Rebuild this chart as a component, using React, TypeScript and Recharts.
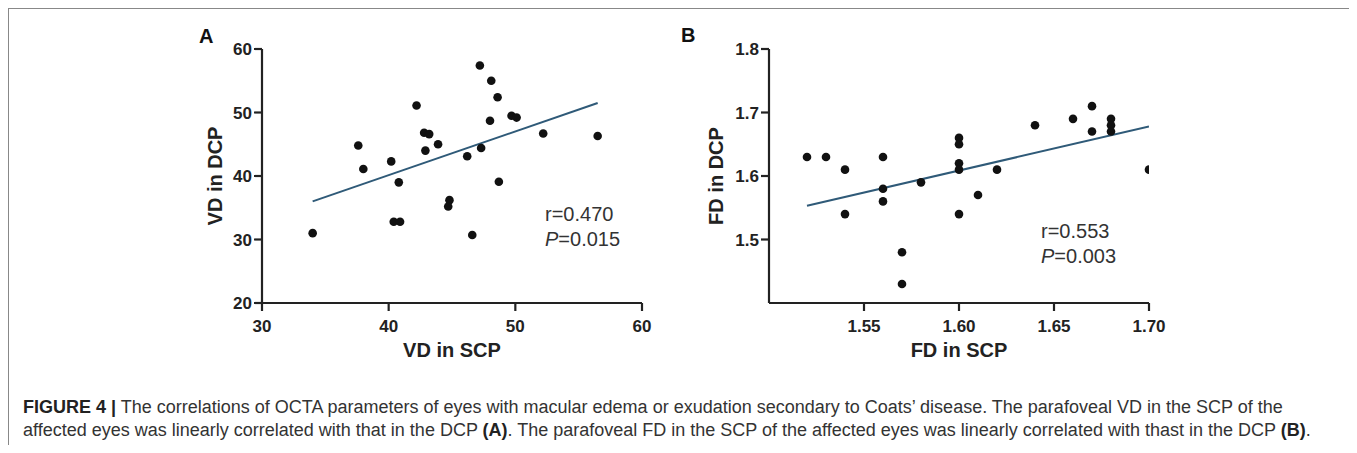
import React from "react";
import { ScatterChart, Scatter, XAxis, YAxis, Label } from "recharts";

// panel A: VD (vessel density)
const vdScp = [34.0, 37.6, 38.0, 40.2, 40.8, 40.4, 40.9, 42.2, 42.8, 43.2, 42.9, 43.9, 44.8, 44.7, 47.2, 48.1, 48.6, 48.0, 49.7, 50.1, 52.2, 56.5, 46.2, 47.3, 48.7, 46.6];
const vdDcp = [31.0, 44.8, 41.1, 42.3, 39.0, 32.8, 32.8, 51.1, 46.8, 46.6, 44.0, 45.0, 36.2, 35.2, 57.4, 55.0, 52.4, 48.7, 49.5, 49.2, 46.7, 46.3, 43.1, 44.4, 39.1, 30.7];
const vdFitX = [34.0, 56.5];
const vdFitY = [36.0, 51.5];
const vdXTicks = [30, 40, 50, 60];
const vdYTicks = [20, 30, 40, 50, 60];

// panel B: FD (fractal dimension)
const fdScp = [1.52, 1.53, 1.54, 1.54, 1.56, 1.56, 1.56, 1.57, 1.57, 1.58, 1.6, 1.6, 1.6, 1.6, 1.6, 1.61, 1.62, 1.64, 1.66, 1.67, 1.67, 1.68, 1.68, 1.68, 1.7];
const fdDcp = [1.63, 1.63, 1.61, 1.54, 1.63, 1.58, 1.56, 1.48, 1.43, 1.59, 1.66, 1.65, 1.62, 1.61, 1.54, 1.57, 1.61, 1.68, 1.69, 1.71, 1.67, 1.69, 1.68, 1.67, 1.61];
const fdFitX = [1.52, 1.7];
const fdFitY = [1.553, 1.678];
const fdXTicks = [1.55, 1.6, 1.65, 1.7];
const fdYTicks = [1.5, 1.6, 1.7, 1.8];

const zip = (xs: number[], ys: number[]) => xs.map((x, i) => ({ x, y: ys[i] }));

const FONT = '"Liberation Sans", Arial, sans-serif';
const AXIS = "#222";
const FIT = "#2f5a78";

const tickStyle = { fontSize: 17, fontWeight: 700, fill: AXIS, fontFamily: FONT };

const yTitle = (text: string, dx: number) => (props: any) => {
  const { x, y, height } = props.viewBox;
  const cx = x + dx;
  const cy = y + height / 2;
  return (
    <text
      x={cx}
      y={cy}
      transform={`rotate(-90, ${cx}, ${cy})`}
      textAnchor="middle"
      dominantBaseline="central"
      fontSize={20}
      fontWeight={700}
      fontFamily={FONT}
      fill={AXIS}
    >
      {text}
    </text>
  );
};

const xTitle = (text: string) => (props: any) => {
  const { x, y, width } = props.viewBox;
  return (
    <text
      x={x + width / 2}
      y={y + 47}
      textAnchor="middle"
      dominantBaseline="central"
      fontSize={20}
      fontWeight={700}
      fontFamily={FONT}
      fill={AXIS}
    >
      {text}
    </text>
  );
};

function Panel(props: {
  points: { x: number; y: number }[];
  fit: { x: number; y: number }[];
  xDomain: [number, number];
  yDomain: [number, number];
  xTicks: number[];
  yTicks: number[];
  xFmt: (v: number) => string;
  yFmt: (v: number) => string;
  xLabel: string;
  yLabel: string;
  yLabelDx: number;
}) {
  return (
    <ScatterChart width={520} height={360} margin={{ top: 29, right: 28, bottom: 0, left: 0 }}>
      <XAxis
        type="number"
        dataKey="x"
        domain={props.xDomain}
        ticks={props.xTicks}
        tickFormatter={props.xFmt}
        interval={0}
        height={77}
        tickSize={8}
        tickMargin={9}
        axisLine={{ stroke: AXIS, strokeWidth: 2.2 }}
        tickLine={{ stroke: AXIS, strokeWidth: 2.2 }}
        tick={tickStyle}
        allowDataOverflow
      >
        <Label content={xTitle(props.xLabel)} />
      </XAxis>
      <YAxis
        type="number"
        dataKey="y"
        domain={props.yDomain}
        ticks={props.yTicks}
        tickFormatter={props.yFmt}
        interval={0}
        width={112}
        tickSize={8}
        tickMargin={2}
        axisLine={{ stroke: AXIS, strokeWidth: 2.2 }}
        tickLine={{ stroke: AXIS, strokeWidth: 2.2 }}
        tick={tickStyle}
        allowDataOverflow
      >
        <Label content={yTitle(props.yLabel, props.yLabelDx)} />
      </YAxis>
      <Scatter
        data={props.fit}
        line={{ stroke: FIT, strokeWidth: 2 }}
        shape={() => <g />}
        isAnimationActive={false}
      />
      <Scatter
        data={props.points}
        fill="#111"
        isAnimationActive={false}
        shape={(p: any) => <circle cx={p.cx} cy={p.cy} r={4.3} fill="#111" />}
      />
    </ScatterChart>
  );
}

const abs = (left: number, top: number): React.CSSProperties => ({ position: "absolute", left, top });

export default function App() {
  const stat: React.CSSProperties = { fontFamily: FONT, fontSize: 20, lineHeight: "25px", color: "#333", whiteSpace: "nowrap" };
  const letter: React.CSSProperties = { fontFamily: FONT, fontSize: 20, lineHeight: "20px", fontWeight: 700, color: "#111" };
  const caption: React.CSSProperties = { fontFamily: FONT, fontSize: 18, lineHeight: "23px", color: "#333", whiteSpace: "nowrap" };

  return (
    <div
      style={{
        position: "relative",
        width: 1343,
        height: 436,
        borderTop: "1px solid #888",
        borderLeft: "1px solid #888",
        borderRight: "1px solid #888",
        background: "#fff",
      }}
    >
      <div style={{ ...abs(190, 17), ...letter }}>A</div>
      <div style={{ ...abs(672, 16), ...letter }}>B</div>

      <div style={abs(141, 11)}>
        <Panel
          points={zip(vdScp, vdDcp)}
          fit={zip(vdFitX, vdFitY)}
          xDomain={[30, 60]}
          yDomain={[20, 60]}
          xTicks={vdXTicks}
          yTicks={vdYTicks}
          xFmt={(v) => String(v)}
          yFmt={(v) => String(v)}
          xLabel="VD in SCP"
          yLabel="VD in DCP"
          yLabelDx={65}
        />
      </div>
      <div style={abs(648, 11)}>
        <Panel
          points={zip(fdScp, fdDcp)}
          fit={zip(fdFitX, fdFitY)}
          xDomain={[1.5, 1.7]}
          yDomain={[1.4, 1.8]}
          xTicks={fdXTicks}
          yTicks={fdYTicks}
          xFmt={(v) => v.toFixed(2)}
          yFmt={(v) => v.toFixed(1)}
          xLabel="FD in SCP"
          yLabel="FD in DCP"
          yLabelDx={59}
        />
      </div>

      <div style={{ ...abs(536, 193), ...stat }}>
        <div>r=0.470</div>
        <div>
          <i>P</i>=0.015
        </div>
      </div>
      <div style={{ ...abs(1032, 210), ...stat }}>
        <div>r=0.553</div>
        <div>
          <i>P</i>=0.003
        </div>
      </div>

      <div style={{ ...abs(14, 387), ...caption }}>
        <div>
          <b style={{ color: "#222" }}>FIGURE 4 |</b> The correlations of OCTA parameters of eyes with macular edema or exudation secondary to Coats’ disease. The parafoveal VD in the SCP of the
        </div>
        <div>
          affected eyes was linearly correlated with that in the DCP <b style={{ color: "#222" }}>(A)</b>. The parafoveal FD in the SCP of the affected eyes was linearly correlated with thast in the DCP <b style={{ color: "#222" }}>(B)</b>.
        </div>
      </div>
    </div>
  );
}
